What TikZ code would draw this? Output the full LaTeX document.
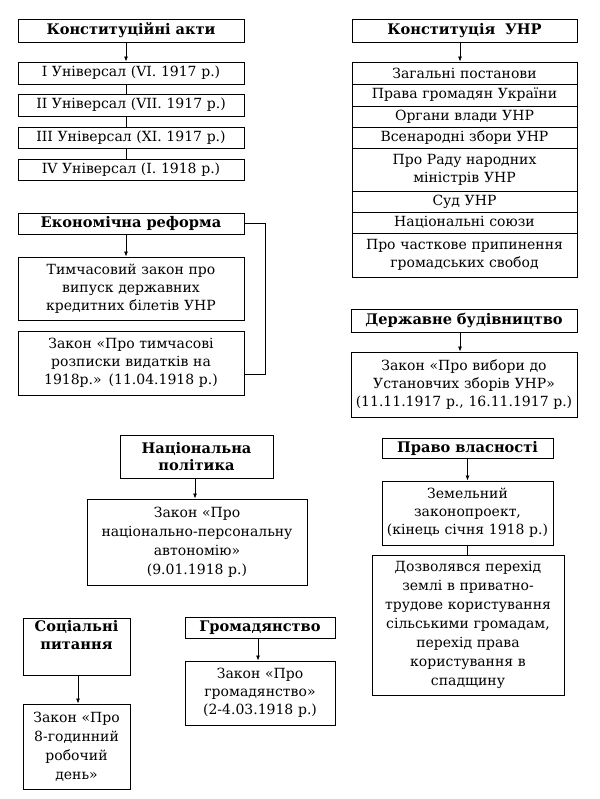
\documentclass[tikz,border=0pt]{standalone}
\usepackage{fontspec}
\setmainfont{DejaVu Serif}
\usetikzlibrary{arrows.meta}
\tikzset{
  bx/.style={draw, line width=0.9pt, inner xsep=2pt, inner ysep=0pt, align=center, font=\fontsize{14}{18}\selectfont},
  hd/.style={font=\fontsize{14.6}{17.5}\selectfont\bfseries},
  wide/.style={font=\fontsize{14}{19}\selectfont},
  arr/.style={line width=0.8pt, -{Latex[length=5pt,width=4pt]}},
  ln/.style={line width=0.8pt}
}
\newcommand{\mybox}[7][]{%
  \pgfmathsetmacro\cx{(#3+#5)/2}\pgfmathsetmacro\cy{-(#4+#6)/2}%
  \pgfmathsetmacro\ww{#5-#3}\pgfmathsetmacro\hh{#6-#4}\pgfmathsetmacro\tw{#5-#3-4}%
  \node[bx,#1,minimum width=\ww pt,minimum height=\hh pt,text width=\tw pt] (#2) at (\cx pt,\cy pt) {#7};}
\begin{document}
\begin{tikzpicture}
\useasboundingbox (0,0) rectangle (599pt,-799pt);
% Constitutional acts
\mybox[hd]{A0}{18}{19}{244}{42}{Конституційні акти}
\mybox{A1}{18}{62}{244}{84}{I Універсал (VI. 1917 р.)}
\mybox{A2}{18}{94}{244}{116}{II Універсал (VII. 1917 р.)}
\mybox{A3}{18}{127}{244}{148}{III Універсал (XI. 1917 р.)}
\mybox{A4}{18}{159}{244}{180}{IV Універсал (I. 1918 р.)}
\draw[arr] ([xshift=-5pt]A0.south) -- ([xshift=-5pt]A1.north);
\draw[ln] ([xshift=-5pt]A1.south) -- ([xshift=-5pt]A2.north);
\draw[ln] ([xshift=-5pt]A2.south) -- ([xshift=-5pt]A3.north);
\draw[ln] ([xshift=-5pt]A3.south) -- ([xshift=-5pt]A4.north);
% Constitution UNR
\mybox[hd]{B0}{352}{19}{577}{42}{Конституція~ УНР}
\mybox{B1}{352}{62}{577}{84}{Загальні постанови}
\mybox{B2}{352}{84}{577}{106}{Права громадян України}
\mybox{B3}{352}{106}{577}{127}{Органи влади УНР}
\mybox{B4}{352}{127}{577}{148}{Всенародні збори УНР}
\mybox{B5}{352}{148}{577}{191}{Про Раду народних\\міністрів УНР}
\mybox{B6}{352}{191}{577}{212}{Суд УНР}
\mybox{B7}{352}{212}{577}{233}{Національні союзи}
\mybox{B8}{352}{233}{577}{277}{Про часткове припинення\\громадських свобод}
\draw[arr] ([xshift=-4.5pt]B0.south) -- ([xshift=-4.5pt]B1.north);
% Economic reform
\mybox[hd]{C0}{18}{213}{244}{234}{Економічна реформа}
\mybox{C1}{18}{257}{244}{320}{Тимчасовий закон про\\випуск державних\\кредитних білетів УНР}
\mybox{C2}{18}{331}{244}{395}{Закон «Про тимчасові\\розписки видатків на\\1918р.» (11.04.1918 р.)}
\draw[arr] ([xshift=-5pt]C0.south) -- ([xshift=-5pt]C1.north);
\draw[ln] ([yshift=0.5pt]C0.east) -- ++(21pt,0) |- ([yshift=-11pt]C2.east);
% State building
\mybox[hd]{D0}{351}{309}{577}{332}{Державне будівництво}
\mybox{D1}{351}{352}{577}{417}{Закон «Про вибори до\\Установчих зборів УНР»\\(11.11.1917 р., 16.11.1917 р.)}
\draw[arr] ([xshift=-4pt]D0.south) -- ([xshift=-4pt]D1.north);
% National policy
\mybox[hd]{E0}{120}{435}{273}{478}{Національна\\політика}
\mybox[wide]{E1}{87}{499}{307}{585}{Закон «Про\\національно-персональну\\автономію»\\(9.01.1918 р.)}
\draw[arr] ([xshift=-1.5pt]E0.south) -- ([xshift=-1.5pt]E0.south |- E1.north);
% Property
\mybox[hd]{F0}{382}{438}{553}{458}{Право власності}
\mybox{F1}{382}{481}{553}{545}{Земельний\\законопроект,\\(кінець січня 1918 р.)}
\mybox[wide]{F2}{372}{555}{564}{695}{Дозволявся перехід\\землі в приватно-\\трудове користування\\сільськими громадам,\\перехід права\\користування в\\спадщину}
\draw[arr] (F0.south) -- (F1.north);
\draw[ln] (F1.south) -- (F1.south |- F2.north);
% Social
\mybox[hd]{G0}{23}{618}{130}{675}{Соціальні\\питання\\\strut}
\mybox[wide]{G1}{23}{704}{130}{789}{Закон «Про\\8-годинний\\робочий\\день»}
\draw[arr] ([xshift=1.5pt]G0.south) -- ([xshift=1.5pt]G1.north);
% Citizenship
\mybox[hd]{H0}{185}{617}{335}{638}{Громадянство}
\mybox{H1}{185}{661}{335}{725}{Закон «Про\\громадянство»\\(2-4.03.1918 р.)}
\draw[arr] ([xshift=-2pt]H0.south) -- ([xshift=-2pt]H1.north);
\end{tikzpicture}
\end{document}
